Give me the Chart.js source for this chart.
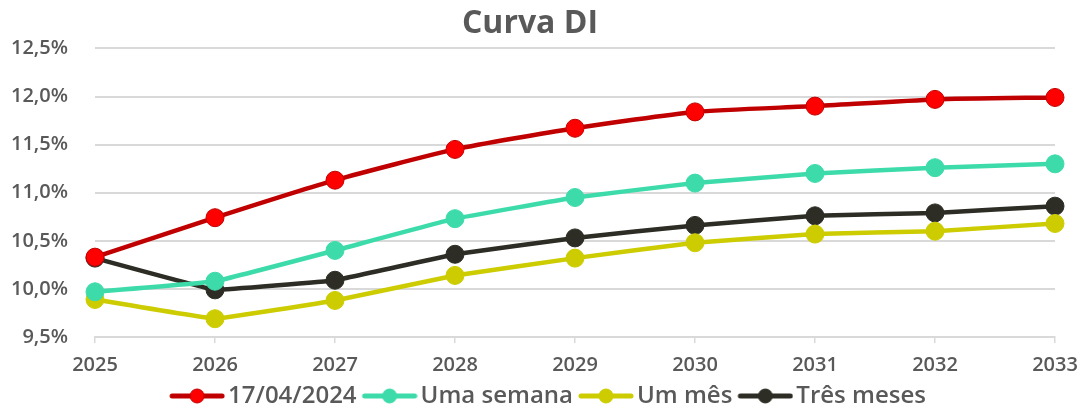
<!DOCTYPE html>
<html>
<head>
<meta charset="utf-8">
<script src="https://cdn.jsdelivr.net/npm/chart.js@4.4.1/dist/chart.umd.min.js"></script>
<style>
  html, body { margin: 0; padding: 0; background: #fff; }
  #wrap { width: 1088px; height: 408px; position: relative; }
</style>
</head>
<body>
<div id="wrap"><canvas id="chart"></canvas></div>
<script>
const anos = ['2025', '2026', '2027', '2028', '2029', '2030', '2031', '2032', '2033']

const hoje = [10.33, 10.74, 11.13, 11.45, 11.67, 11.84, 11.90, 11.97, 11.99]
const umaSemana = [9.97, 10.08, 10.40, 10.73, 10.95, 11.10, 11.20, 11.26, 11.30]
const umMes = [9.89, 9.69, 9.88, 10.14, 10.32, 10.48, 10.57, 10.60, 10.68]
const tresMeses = [10.32, 9.99, 10.09, 10.36, 10.53, 10.66, 10.76, 10.79, 10.86]

const FONT = '"Open Sans", "DejaVu Sans", sans-serif'
const GREY = '#595959'

// legend symbol: line with a dot in the middle
function legendIcon(line, fill, border) {
    const c = document.createElement('canvas')
    c.width = 64; c.height = 20
    const ctx = c.getContext('2d')
    ctx.strokeStyle = line
    ctx.lineWidth = 5
    ctx.lineCap = 'round'
    ctx.beginPath(); ctx.moveTo(11, 10); ctx.lineTo(61, 10); ctx.stroke()
    ctx.fillStyle = fill
    ctx.strokeStyle = border
    ctx.lineWidth = 1
    ctx.beginPath(); ctx.arc(36, 10, 7, 0, Math.PI * 2); ctx.fill(); ctx.stroke()
    return c
}

function serie(label, data, line, fill, border, tension) {
    return {
        label: label,
        data: data,
        borderColor: line,
        backgroundColor: fill,
        pointBackgroundColor: fill,
        pointBorderColor: border,
        pointBorderWidth: 1,
        pointRadius: 9,
        borderWidth: 4.5,
        tension: tension,
        icon: legendIcon(line, fill, border)
    }
}

const datasets = [
    serie('17/04/2024', hoje, '#C00000', '#FF0000', '#C00000', 0.2),
    serie('Uma semana', umaSemana, '#3DDBAA', '#3DDBAA', '#3DDBAA', 0.08),
    serie('Um mês', umMes, '#CCCC00', '#CCCC00', '#CCCC00', 0.05),
    serie('Três meses', tresMeses, '#2D2D26', '#2D2D26', '#2D2D26', 0.05)
]

// nudge the legend a bit to the right, like the original
const legendShift = {
    id: 'legendShift',
    afterLayout(chart) {
        chart.legend.left += 18
        chart.legend.right += 18
    }
}

new Chart(document.getElementById('chart'), {
    type: 'line',
    data: { labels: anos, datasets: datasets },
    plugins: [legendShift],
    options: {
        responsive: true,
        maintainAspectRatio: false,
        animation: false,
        layout: { padding: { left: 5, right: 33, top: 0, bottom: -10 } },
        plugins: {
            title: {
                display: true,
                text: 'Curva DI',
                color: GREY,
                font: { family: FONT, size: 32, weight: 'bold' },
                padding: { top: 5, bottom: 5 }
            },
            legend: {
                position: 'bottom',
                labels: {
                    color: GREY,
                    font: { family: FONT, size: 24, weight: '600' },
                    usePointStyle: true,
                    pointStyleWidth: 46,
                    padding: 6,
                    generateLabels: chart => chart.data.datasets.map((ds, i) => ({
                        text: ds.label,
                        pointStyle: ds.icon,
                        fontColor: GREY,
                        datasetIndex: i,
                        hidden: false,
                        lineWidth: 0
                    }))
                }
            },
            tooltip: { enabled: false }
        },
        scales: {
            x: {
                afterFit: scale => { scale.height = 41 },
                grid: { display: true, drawOnChartArea: false, color: '#d9d9d9', lineWidth: 1.5, tickLength: 6 },
                border: { display: true, color: '#d9d9d9', width: 2 },
                ticks: {
                    color: GREY,
                    font: { family: FONT, size: 20, weight: '600' },
                    padding: 10,
                    maxRotation: 0
                }
            },
            y: {
                min: 9.5,
                max: 12.5,
                afterFit: scale => { scale.width = 90 },
                grid: { color: '#d9d9d9', lineWidth: 2, drawTicks: false },
                border: { display: false },
                ticks: {
                    stepSize: 0.5,
                    color: GREY,
                    font: { family: FONT, size: 20, weight: '600' },
                    padding: 27,
                    callback: v => v.toFixed(1).replace('.', ',') + '%'
                }
            }
        }
    }
})
</script>
</body>
</html>
